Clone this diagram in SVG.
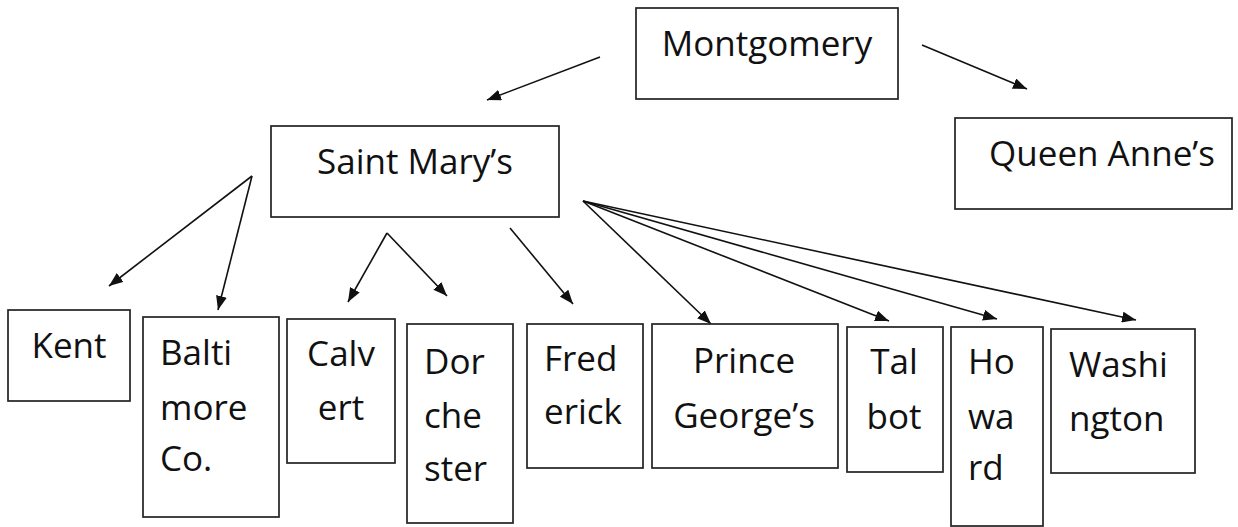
<svg xmlns="http://www.w3.org/2000/svg" width="1238" height="527" viewBox="0 0 1238 527">
<style>
.box{fill:#fff;stroke:#222;stroke-width:1.7}
.t{font-family:"Open Sans","Noto Sans",sans-serif;font-size:35px;fill:#111}
.m{text-anchor:middle}
.e{stroke:#111;stroke-width:1.6;fill:none;marker-end:url(#ah)}
</style>
<defs>
<marker id="ah" markerUnits="userSpaceOnUse" markerWidth="14" markerHeight="11" refX="14" refY="5.5" orient="auto">
<path d="M0,0 L14,5.5 L0,11 z" fill="#111"/>
</marker>
</defs>
<rect width="1238" height="527" fill="#fff"/>
<g id="connectors">
<line class="e" x1="600" y1="57" x2="487" y2="100"/>
<line class="e" x1="922" y1="45" x2="1027" y2="89"/>
<line class="e" x1="252" y1="176" x2="109" y2="286"/>
<line class="e" x1="252" y1="176" x2="218" y2="310"/>
<line class="e" x1="387" y1="233" x2="348" y2="302"/>
<line class="e" x1="387" y1="233" x2="447" y2="296"/>
<line class="e" x1="510" y1="228" x2="573" y2="304"/>
<line class="e" x1="583" y1="201" x2="711" y2="324"/>
<line class="e" x1="583" y1="201" x2="889" y2="321"/>
<line class="e" x1="583" y1="201" x2="997" y2="319"/>
<line class="e" x1="583" y1="201" x2="1136" y2="320"/>
</g>
<g id="montgomery"><rect class="box" x="636" y="8" width="262" height="91"/><text class="t m" x="767" y="56">Montgomery</text></g>
<g id="queen-annes"><rect class="box" x="955" y="118" width="277" height="91"/><text class="t m" x="1102" y="166">Queen Anne’s</text></g>
<g id="saint-marys"><rect class="box" x="271" y="126" width="288" height="91"/><text class="t m" x="415" y="174">Saint Mary’s</text></g>
<g id="kent"><rect class="box" x="8" y="310" width="122" height="91"/><text class="t m" x="69" y="358">Kent</text></g>
<g id="baltimore"><rect class="box" x="143" y="317" width="136" height="200"/><text class="t" x="160" y="365">Balti</text><text class="t" x="160" y="420">more</text><text class="t" x="160" y="471">Co.</text></g>
<g id="calvert"><rect class="box" x="287" y="319" width="108" height="144"/><text class="t m" x="341" y="366">Calv</text><text class="t m" x="341" y="420">ert</text></g>
<g id="dorchester"><rect class="box" x="407" y="324" width="106" height="199"/><text class="t" x="424" y="374">Dor</text><text class="t" x="424" y="428">che</text><text class="t" x="424" y="481">ster</text></g>
<g id="frederick"><rect class="box" x="527" y="324" width="116" height="144"/><text class="t" x="544" y="371">Fred</text><text class="t" x="544" y="424">erick</text></g>
<g id="prince-georges"><rect class="box" x="652" y="324" width="186" height="144"/><text class="t m" x="744" y="373">Prince</text><text class="t m" x="744" y="428">George’s</text></g>
<g id="talbot"><rect class="box" x="847" y="327" width="96" height="145"/><text class="t m" x="894" y="374">Tal</text><text class="t m" x="894" y="429">bot</text></g>
<g id="howard"><rect class="box" x="951" y="327" width="92" height="199"/><text class="t" x="968" y="374">Ho</text><text class="t" x="968" y="429">wa</text><text class="t" x="968" y="480">rd</text></g>
<g id="washington"><rect class="box" x="1051" y="329" width="144" height="144"/><text class="t" x="1069" y="377">Washi</text><text class="t" x="1069" y="431">ngton</text></g>
</svg>
